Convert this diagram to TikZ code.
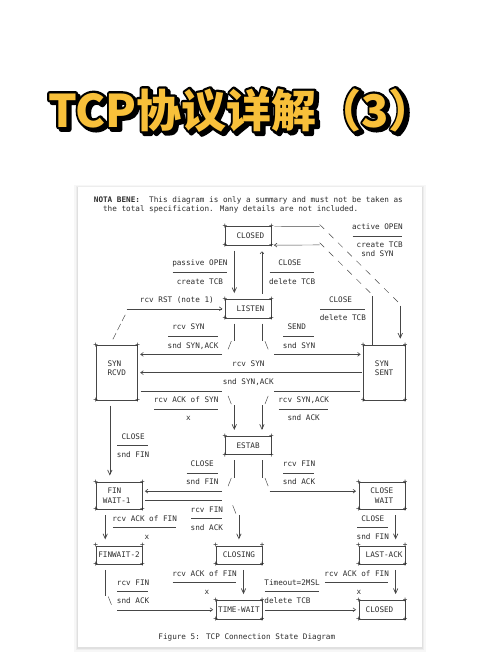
\documentclass[tikz,border=0pt]{standalone}
\usepackage{fontspec}
\usepackage{tikz}
\usetikzlibrary{arrows.meta}
\newfontfamily\monofont{DejaVu Sans Mono}
\newfontfamily\titlefont{Noto Sans CJK SC}
\definecolor{ink}{RGB}{45,45,45}
\definecolor{wireink}{RGB}{70,70,70}
\definecolor{titleyellow}{RGB}{248,192,58}
\newcommand{\strokeon}{\special{pdf:literal direct 1 j 2 Tr 4.6 w}}
\newcommand{\strokeoff}{\special{pdf:literal direct 0 Tr}}

\begin{document}
\begin{tikzpicture}[x=1pt, y=-1pt,
    mono/.style={font=\monofont\fontsize{7.66}{9.12}\selectfont, text=ink},
    txt/.style={mono, anchor=base west, inner sep=0pt},
    state/.style={mono, draw=wireink, line width=0.45pt, inner sep=0pt, align=center},
    smallbox/.style={state, minimum width=46.1pt, minimum height=18.24pt},
    midbox/.style={state, minimum width=46.1pt, minimum height=27.36pt},
    tallbox/.style={state, minimum width=41.49pt, minimum height=54.72pt},
    plus/.style={mono, inner sep=0pt},
    wire/.style={draw=wireink, line width=0.45pt},
    bar/.style={draw=wireink, line width=0.45pt},
    bdiag/.style={wire, dash pattern=on 6.5pt off 6.47pt},
    sdiag/.style={wire, dash pattern=on 7pt off 3.22pt},
    harr/.style={wire, -{Straight Barb[length=2.6pt,width=3.8pt,line width=0.6pt]}, shorten >=2.5pt},
    varr/.style={wire, -{Straight Barb[length=4.8pt,width=4.4pt,line width=0.7pt]}, shorten >=6.3pt},
    uarr/.style={wire, -{Straight Barb[length=2pt,width=3.8pt,line width=0.6pt]}, shorten >=6.2pt},
    vout/.style={shorten <=5.5pt},
    hout/.style={shorten <=2.8pt},
    titletxt/.style={font=\titlefont\bfseries\fontsize{45}{50}\selectfont, inner sep=0pt, anchor=base west}
]
\useasboundingbox (0,0) rectangle (500,664);
\fill[white] (0,0) rectangle (500,664);

\node[titletxt, text=black] (tshade) at (50.6,129.6) {\strokeon TCP协议详解（3）\strokeoff};
\node[titletxt, text=black] (tline) at (48,127) {\strokeon TCP协议详解（3）\strokeoff};
\node[titletxt, text=titleyellow] (title) at (48,127) {TCP协议详解（3）};

\fill[black, opacity=0.03] (74,185) rectangle (426,652);
\fill[black, opacity=0.04] (76,186) rectangle (424,650);
\fill[black, opacity=0.05] (77,187) rectangle (423,648.5);
\fill[white] (78,187) rectangle (422,647);

\begin{scope}[shift={(96pt,-226.7pt)}, x=4.61pt, y=-9.12pt]
\node[txt] (nota) at (-0.5,-2.7) {\textbf{NOTA BENE:}\ \ This diagram is only a summary and must not be taken as};
\node[txt] (nota2) at (1.5,-1.7) {the total specification. Many details are not included.};

\node[smallbox] (closed) at (33,1) {\ CLOSED};
\node[smallbox] (listen) at (33,9) {\ LISTEN};
\node[tallbox, align=left] (synrcvd) at (4.5,16) {SYN\\RCVD\\\phantom{C}};
\node[tallbox, align=left] (synsent) at (62.5,16) {SYN\\SENT\\\phantom{C}};
\node[smallbox] (estab) at (33,24) {ESTAB};
\node[midbox, align=left] (finwait1) at (5,29.5) {\phantom{C}FIN\\WAIT-1\phantom{C}};
\node[midbox, align=left] (closewait) at (62,29.5) {CLOSE\\\phantom{C}WAIT};
\node[smallbox] (finwait2) at (5,36) {FINWAIT-2};
\node[smallbox] (closing) at (31,36) {CLOSING};
\node[smallbox] (lastack) at (62,36) {\ LAST-ACK};
\node[smallbox] (timewait) at (31,42) {TIME-WAIT};
\node[smallbox] (closed2) at (62,42) {CLOSED\ };

\foreach \n in {closed,listen,synrcvd,synsent,estab,finwait1,closewait,finwait2,closing,lastack,timewait,closed2}
  \foreach \c [count=\k] in {north west,north east,south west,south east}
    \node[plus] (\n-p\k) at (\n.\c) {+};

\node[txt] (aopen) at (55.5,0.3) {active OPEN};
\node[txt] (aopen2) at (56.5,2.3) {create TCB};
\node[txt] (aopen3) at (57.5,3.3) {snd SYN};
\node[txt] (popen) at (16.5,4.3) {passive OPEN};
\node[txt] (popen2) at (17.5,6.3) {create TCB};
\node[txt] (lclose) at (39.5,4.3) {CLOSE};
\node[txt] (lclose2) at (37.5,6.3) {delete TCB};
\node[txt] (rst) at (9.5,8.3) {rcv RST (note 1)};
\node[txt] (sclose) at (50.5,8.3) {CLOSE};
\node[txt] (sclose2) at (48.5,10.3) {delete TCB};
\node[txt] (rsyn) at (16.5,11.3) {rcv SYN};
\node[txt] (rsyn2) at (15.5,13.3) {snd SYN,ACK};
\node[txt] (send) at (41.5,11.3) {SEND};
\node[txt] (send2) at (40.5,13.3) {snd SYN};
\node[txt] (xsyn) at (29.5,15.3) {rcv SYN};
\node[txt] (xsyn2) at (27.5,17.3) {snd SYN,ACK};
\node[txt] (rack) at (12.5,19.3) {rcv ACK of SYN};
\node[txt] (rack2) at (19.5,21.3) {x};
\node[txt] (rsa) at (39.5,19.3) {rcv SYN,ACK};
\node[txt] (rsa2) at (41.5,21.3) {snd ACK};
\node[txt] (rclose) at (5.5,23.3) {CLOSE};
\node[txt] (rclose2) at (4.5,25.3) {snd FIN};
\node[txt] (eclose) at (20.5,26.3) {CLOSE};
\node[txt] (eclose2) at (19.5,28.3) {snd FIN};
\node[txt] (efin) at (40.5,26.3) {rcv FIN};
\node[txt] (efin2) at (40.5,28.3) {snd ACK};
\node[txt] (ffin) at (20.5,31.3) {rcv FIN};
\node[txt] (ffin2) at (20.5,33.3) {snd ACK};
\node[txt] (fack) at (3.5,32.3) {rcv ACK of FIN};
\node[txt] (fack2) at (10.5,34.3) {x};
\node[txt] (wclose) at (57.5,32.3) {CLOSE};
\node[txt] (wclose2) at (56.5,34.3) {snd FIN};
\node[txt] (cack) at (16.5,38.3) {rcv ACK of FIN};
\node[txt] (cack2) at (23.5,40.3) {x};
\node[txt] (lack) at (49.5,38.3) {rcv ACK of FIN};
\node[txt] (lack2) at (56.5,40.3) {x};
\node[txt] (tfin) at (4.5,39.3) {rcv FIN};
\node[txt] (tfin2) at (4.5,41.3) {snd ACK};
\node[txt] (tout) at (36.5,39.3) {Timeout=2MSL};
\node[txt] (tout2) at (36.5,41.3) {delete TCB};
\node[txt] (caption) at (13.5,45.3) {Figure 5: TCP Connection State Diagram};

\draw[bar] (55.64,1) -- (66.36,1);
\draw[bar] (16.64,5) -- (28.36,5);
\draw[bar] (37.64,5) -- (47.36,5);
\draw[bar] (48.64,9) -- (58.36,9);
\draw[bar] (15.64,12) -- (26.36,12);
\draw[bar] (40.64,12) -- (47.36,12);
\draw[bar] (12.64,20) -- (26.36,20);
\draw[bar] (39.64,20) -- (50.36,20);
\draw[bar] (4.64,24) -- (11.36,24);
\draw[bar] (19.64,27) -- (26.36,27);
\draw[bar] (40.64,27) -- (47.36,27);
\draw[bar] (20.64,32) -- (27.36,32);
\draw[bar] (3.64,33) -- (17.36,33);
\draw[bar] (56.64,33) -- (63.36,33);
\draw[bar] (16.64,39) -- (30.36,39);
\draw[bar] (49.64,39) -- (63.36,39);
\draw[bar] (4.64,40) -- (11.36,40);
\draw[bar] (36.64,40) -- (48.36,40);

% active OPEN
\coordinate (ao1) at (48.5,0);
\coordinate (ao2) at (48.5,-0.25);
\coordinate (ao3) at (65.5,8.25);
\coordinate (ao4) at (66,8.65);
\draw[wire, shorten <=3pt] (closed.north east) -- (ao1);
\draw[bdiag] (ao2) -- (ao3);
\draw[varr] (ao4) -- (ao4 |- synsent.north);

% CLOSE from SYN SENT
\coordinate (sc1) at (60,7.65);
\coordinate (sc2) at (59.5,7.25);
\coordinate (sc3) at (48.5,1.75);
\coordinate (sc4) at (48.5,2);
\draw[wire] (sc1 |- synsent.north) -- (sc1);
\draw[bdiag] (sc2) -- (sc3);
\draw[harr] (sc4) -- (closed.south east);

\coordinate (po) at (30,5);
\coordinate (lc) at (36,5);
\draw[varr, vout] (po |- closed.south) -- (po |- listen.north);
\draw[uarr, vout] (lc |- listen.north) -- (lc |- closed.south);

% rcv RST
\coordinate (rr1) at (3.66,12.34);
\coordinate (rr2) at (6.34,9.66);
\coordinate (rr3) at (6.64,9);
\draw[sdiag] (rr1) -- (rr2);
\draw[harr] (rr3) -- (listen.west);

% rcv SYN / SEND
\coordinate (ls1) at (30,12.5);
\coordinate (ls2) at (29.35,12.55);
\coordinate (ls3) at (28.65,13.45);
\coordinate (ls4) at (27.36,14);
\draw[wire, vout] (listen.south -| ls1) -- (ls1);
\draw[wire] (ls2) -- (ls3);
\draw[harr] (ls4) -- (synrcvd.east |- ls4);
\coordinate (sd1) at (36,12.5);
\coordinate (sd2) at (36.65,12.55);
\coordinate (sd3) at (37.35,13.45);
\coordinate (sd4) at (38.64,14);
\draw[wire, vout] (listen.south -| sd1) -- (sd1);
\draw[wire] (sd2) -- (sd3);
\draw[harr] (sd4) -- (synsent.west |- sd4);

\draw[harr, shorten <=1pt] (synsent.west) -- (synrcvd.east);

% to ESTAB
\coordinate (ak1) at (27.36,18);
\coordinate (ak2) at (28.65,18.55);
\coordinate (ak3) at (29.35,19.45);
\coordinate (ak4) at (30,19.6);
\draw[wire, hout] (synrcvd.east |- ak1) -- (ak1);
\draw[wire] (ak2) -- (ak3);
\draw[varr] (ak4) -- (ak4 |- estab.north);
\coordinate (sa1) at (38.64,18);
\coordinate (sa2) at (37.35,18.55);
\coordinate (sa3) at (36.65,19.45);
\coordinate (sa4) at (36,19.6);
\draw[wire, hout] (synsent.west |- sa1) -- (sa1);
\draw[wire] (sa2) -- (sa3);
\draw[varr] (sa4) -- (sa4 |- estab.north);

\coordinate (cf) at (3,22);
\draw[varr, vout] (cf |- synrcvd.south) -- (cf |- finwait1.north);

% from ESTAB
\coordinate (ef1) at (30,27.5);
\coordinate (ef2) at (29.35,27.55);
\coordinate (ef3) at (28.65,28.45);
\coordinate (ef4) at (27.36,29);
\draw[wire, vout] (estab.south -| ef1) -- (ef1);
\draw[wire] (ef2) -- (ef3);
\draw[harr] (ef4) -- (finwait1.east |- ef4);
\coordinate (ew1) at (36,27.5);
\coordinate (ew2) at (36.65,27.55);
\coordinate (ew3) at (37.35,28.45);
\coordinate (ew4) at (37.64,29);
\draw[wire, vout] (estab.south -| ew1) -- (ew1);
\draw[wire] (ew2) -- (ew3);
\draw[harr] (ew4) -- (closewait.west |- ew4);

% rcv FIN to CLOSING
\coordinate (fc1) at (27.36,30);
\coordinate (fc2) at (29.65,30.55);
\coordinate (fc3) at (30.35,31.45);
\coordinate (fc4) at (31,31.6);
\draw[wire, hout] (finwait1.east |- fc1) -- (fc1);
\draw[wire] (fc2) -- (fc3);
\draw[varr] (fc4) -- (fc4 |- closing.north);

\coordinate (ff) at (2,33);
\coordinate (cw) at (65,33);
\coordinate (ct) at (32,39);
\coordinate (la) at (65,39);
\draw[varr, vout] (ff |- finwait1.south) -- (ff |- finwait2.north);
\draw[varr, vout] (cw |- closewait.south) -- (cw |- lastack.north);
\draw[varr, vout] (ct |- closing.south) -- (ct |- timewait.north);
\draw[varr, vout] (la |- lastack.south) -- (la |- closed2.north);

% to TIME-WAIT and CLOSED
\coordinate (ft1) at (2,40.5);
\coordinate (ft2) at (2.65,40.55);
\coordinate (ft3) at (3.35,41.45);
\coordinate (ft4) at (4.64,42);
\draw[wire, vout] (finwait2.south -| ft1) -- (ft1);
\draw[wire] (ft2) -- (ft3);
\draw[harr] (ft4) -- (timewait.west);
\draw[harr, hout] (timewait.east) -- (closed2.west);
\end{scope}

\end{tikzpicture}
\end{document}
